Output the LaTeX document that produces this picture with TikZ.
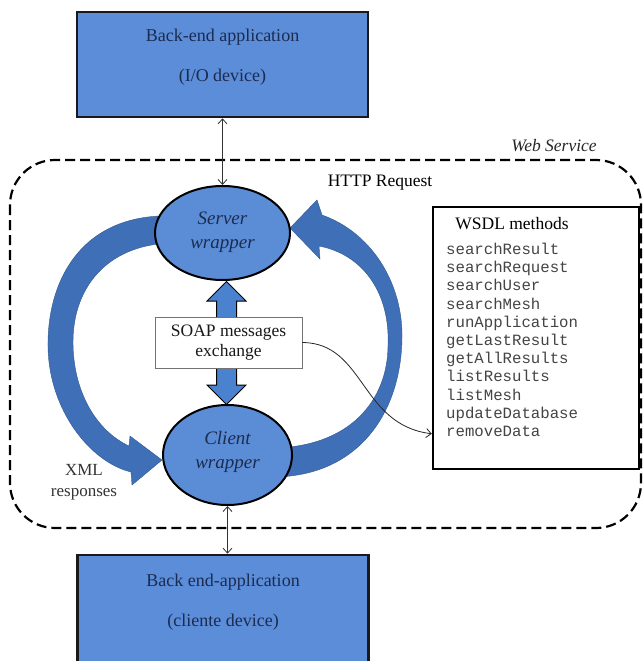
\documentclass[tikz,border=0pt]{standalone}
\usepackage{fontspec}
\setmainfont{Liberation Serif}
\setmonofont{Liberation Mono}
\usetikzlibrary{shapes.geometric,shapes.arrows,arrows.meta,calc}
\definecolor{boxblue}{HTML}{5B8DD8}
\definecolor{ellblue}{HTML}{5A8DD6}
\definecolor{arrblue}{HTML}{3F6FB6}
\definecolor{blkblue}{HTML}{4B82CF}
\definecolor{navy}{HTML}{1C2B50}
\definecolor{methgray}{HTML}{444444}
\begin{document}
\begin{tikzpicture}[x=1pt,y=-1pt,
  appbox/.style={draw=black!90, line width=2.6pt, fill=boxblue, inner sep=0pt},
  apptext/.style={text=navy, align=center, font=\fontsize{18}{40}\selectfont},
  wrapnode/.style={ellipse, draw=black, line width=2pt, fill=ellblue, inner sep=0pt},
  wraptext/.style={text=navy, align=center, font=\fontsize{19}{24}\selectfont\itshape},
  plain/.style={text=black, font=\fontsize{17.5}{20}\selectfont},
  thinarrow/.style={draw=black!80, line width=0.8pt, {Straight Barb[length=5pt,width=9pt]}-{Straight Barb[length=5pt,width=9pt]}},
  bigarrow/.style={fill=arrblue, draw=arrblue!80!black, line width=0.4pt},
  wsframe/.style={draw=black, line width=2.2pt, dash pattern=on 10pt off 5pt, rounded corners=45pt}
]
\useasboundingbox (0,0) rectangle (643,661);

% web service frame
\draw[wsframe] (10,160) rectangle (641,528);
\node[font=\fontsize{17.5}{20}\selectfont\itshape, text=black!85] (ws) at (554,146) {Web Service};

% application boxes
\node[appbox, minimum width=291pt, minimum height=105pt] (topapp) at (222.5,64.5) {};
\node[apptext] (toptxt) at (222.5,57.5) {Back-end application\\(I/O device)};
\node[appbox, minimum width=291pt, minimum height=120pt] (botapp) at (223,615) {};
\node[apptext] (bottxt) at (223,602) {Back end-application\\(cliente device)};

% curved block arrows
\draw[bigarrow] (175,216) .. controls (82,212) and (47,280) .. (48,347)
  .. controls (49,410) and (90,462) .. (131,472)
  -- (132,485) -- (162,460) -- (130,436) -- (129,446)
  .. controls (95,430) and (73,390) .. (73,342)
  .. controls (73,285) and (110,243) .. (175,243) -- cycle;
\draw[bigarrow] (270,477) .. controls (360,478) and (403,410) .. (402,333)
  .. controls (401,280) and (370,232) .. (322,215)
  -- (317,200) -- (290,228) -- (320,259) -- (319,246)
  .. controls (365,255) and (390,295) .. (388,345)
  .. controls (388,400) and (350,448) .. (270,448) -- cycle;

% wrappers
\node[wrapnode, minimum width=135pt, minimum height=94pt] (server) at (222.5,233) {};
\node[wraptext] (servertxt) at (222.5,232) {Server\\wrapper};
\node[wrapnode, minimum width=129pt, minimum height=100pt] (client) at (227.5,455) {};
\node[wraptext] (clienttxt) at (227.5,452) {Client\\wrapper};

% block double arrow
\node[double arrow, shape border rotate=90, fill=blkblue, draw=black, line width=1pt,
      inner sep=9.5pt, minimum height=123pt, double arrow head extend=9.5pt]
      (soaparrow) at (226.5,343) {};

% SOAP box
\node[draw=black!55, line width=0.8pt, fill=white, minimum width=147pt, minimum height=51pt,
      align=center, font=\fontsize{17.5}{20}\selectfont, text=black!90] (soap) at (228.5,342.5)
      {SOAP messages\\exchange};

% thin arrows to back-ends
\draw[thinarrow] (topapp.south) -- (server.north);
\draw[thinarrow] (client.south) -- (client.south |- botapp.north);

% labels
\node[plain] (http) at (380,183) {HTTP Request};
\node[align=center, font=\fontsize{17}{21}\selectfont, text=black!80] (xml) at (84,482) {XML\\responses};

% WSDL box
\node[draw=black, line width=2.5pt, fill=white, minimum width=206pt, minimum height=262pt] (wsdl) at (536,338) {};
\node[plain] (wsdltitle) at (512,224) {WSDL methods};
\node[anchor=north west, align=left, inner sep=0pt, text=methgray,
      font=\ttfamily\fontsize{15.7}{18.2}\selectfont] (methods) at (446,243)
  {searchResult\\searchRequest\\searchUser\\searchMesh\\runApplication\\getLastResult\\getAllResults\\listResults\\listMesh\\updateDatabase\\removeData};

% connector SOAP -> WSDL
\coordinate (win) at ($(wsdl.south west)!0.138!(wsdl.north west)$);
\draw[black!85, line width=0.8pt, -{Straight Barb[length=5pt,width=9pt]}]
  (soap.east) .. controls (365,343) and (360,425) .. (win);
\end{tikzpicture}
\end{document}
